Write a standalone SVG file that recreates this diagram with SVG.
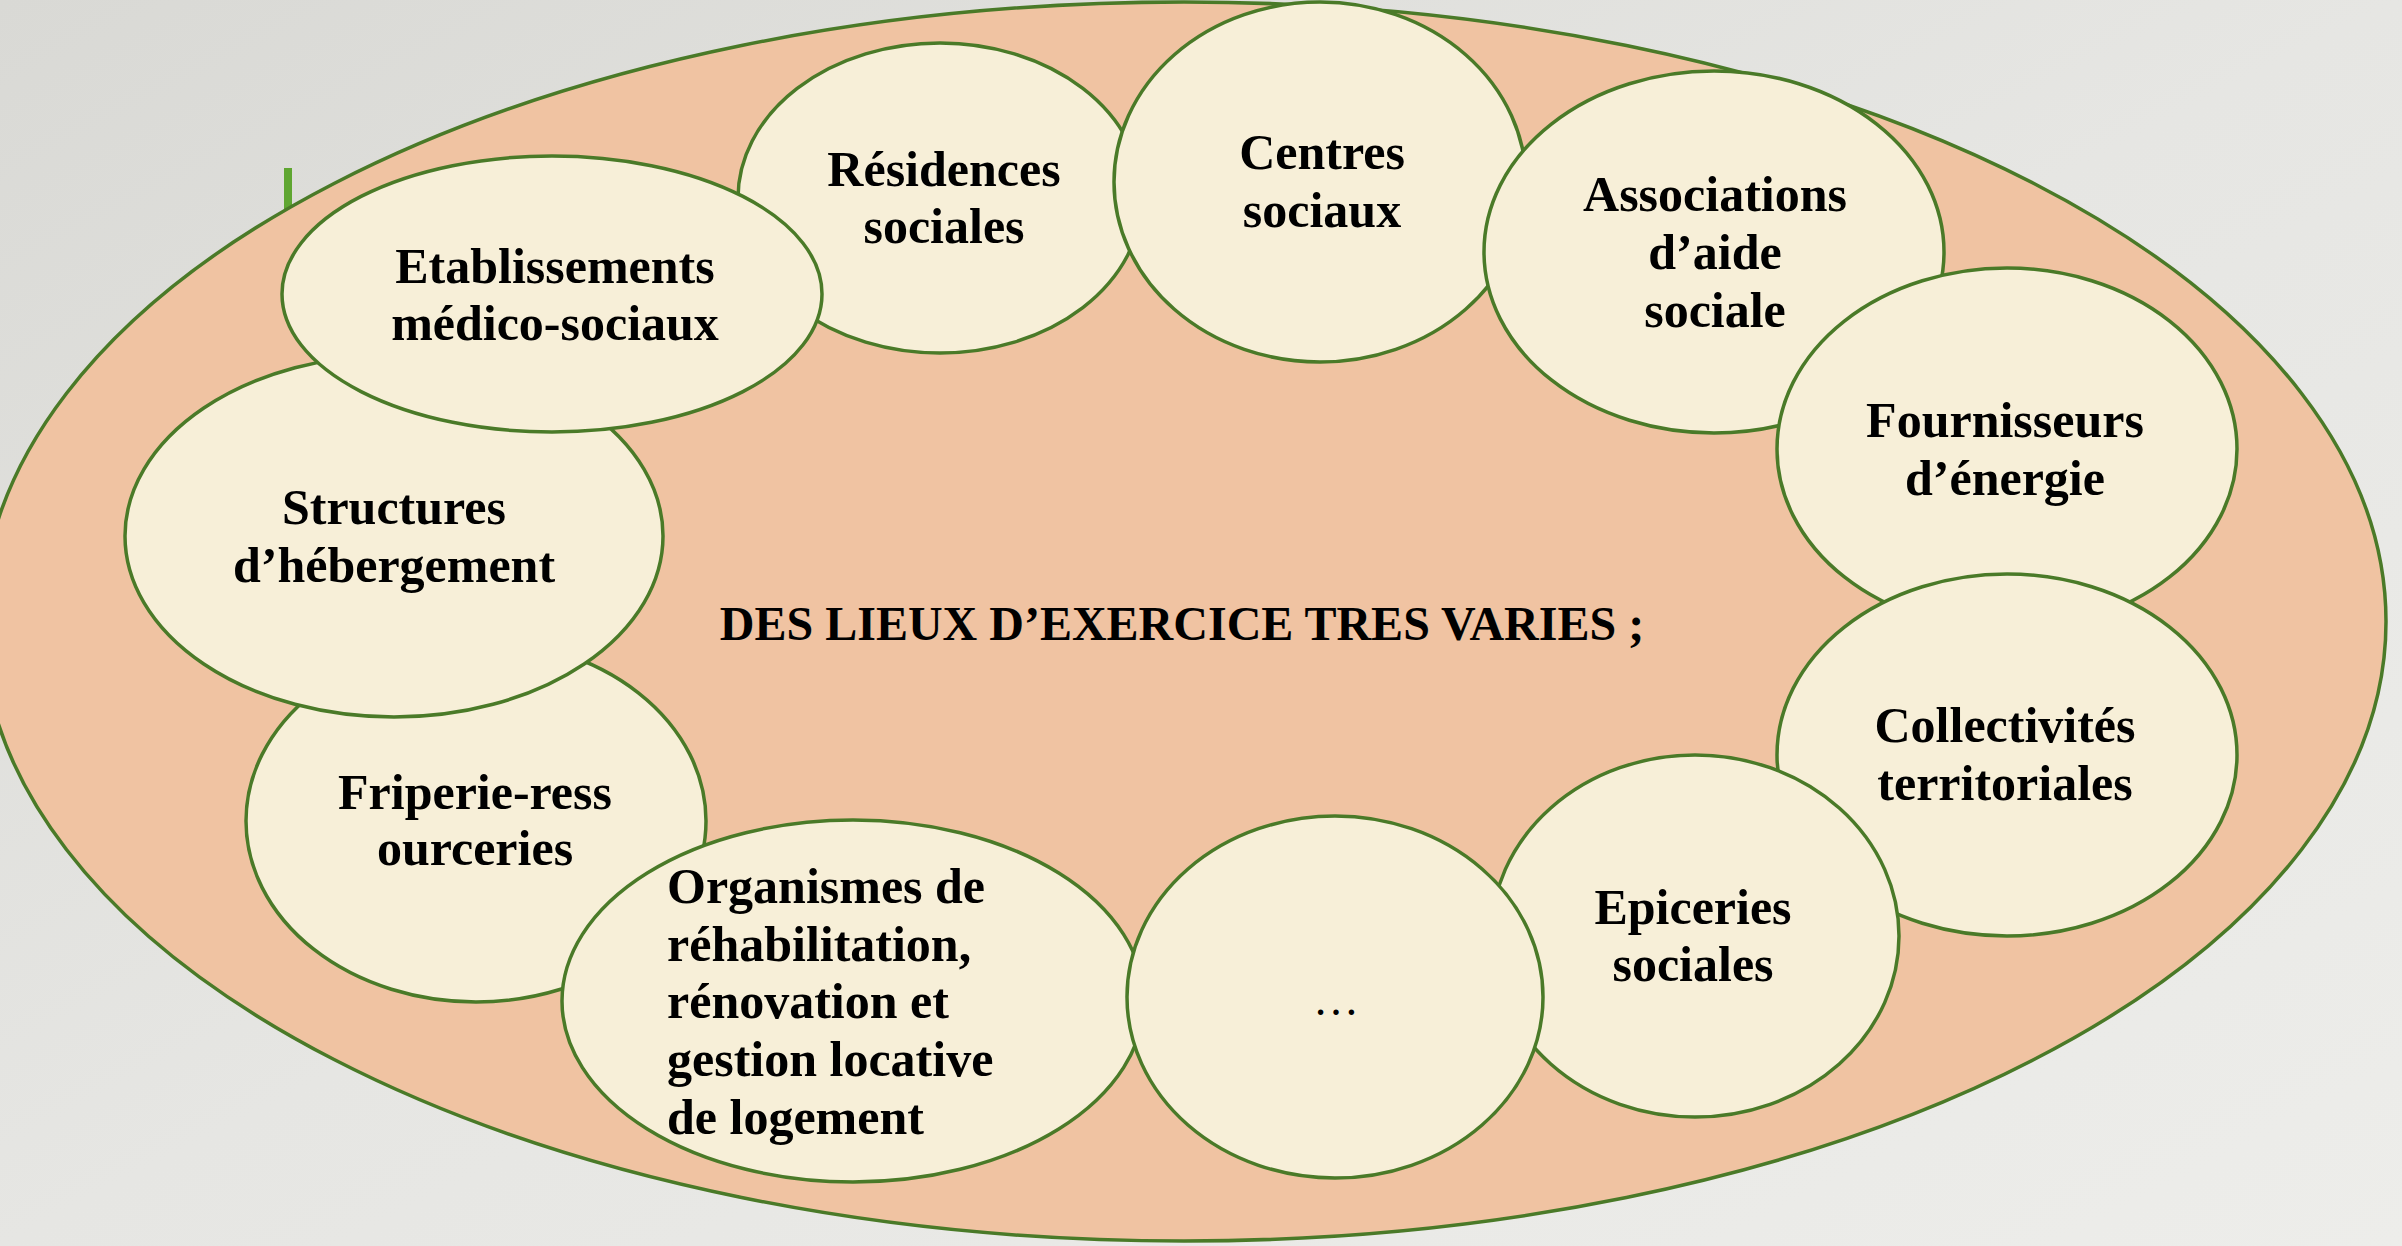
<svg xmlns="http://www.w3.org/2000/svg" width="2402" height="1246" viewBox="0 0 2402 1246">
<defs>
<linearGradient id="bg" x1="0" y1="0" x2="1" y2="1">
<stop offset="0" stop-color="#d9d9d5"/>
<stop offset="0.5" stop-color="#e6e6e3"/>
<stop offset="1" stop-color="#ededea"/>
</linearGradient>
<style>
.node{fill:#f7efd8;stroke:#4a7a28;stroke-width:3.5}
.lbl{font-family:"Liberation Serif","Times New Roman",serif;font-weight:bold;font-size:50px;fill:#000;text-anchor:middle}
.lft{text-anchor:start}
.title{font-size:48px}
.dots{font-weight:normal;font-size:46px}
</style>
</defs>
<rect x="0" y="0" width="2402" height="1246" fill="url(#bg)"/>
<rect x="284" y="168" width="8" height="44" fill="#5fa631"/>
<g id="frame">
<ellipse cx="1184" cy="621.5" rx="1202" ry="619.5" fill="#f0c3a2" stroke="#4a7a28" stroke-width="3.5"/>
<text class="lbl title" x="1182" y="640">DES LIEUX D’EXERCICE TRES VARIES ;</text>
</g>
<g id="connectors"/>
<g id="residences">
<ellipse class="node" cx="940" cy="198" rx="202" ry="155"/>
<text class="lbl" x="944" y="186">Résidences</text>
<text class="lbl" x="944" y="243">sociales</text>
</g>
<g id="centres">
<ellipse class="node" cx="1320" cy="182" rx="206" ry="180"/>
<text class="lbl" x="1322" y="169">Centres</text>
<text class="lbl" x="1322" y="227">sociaux</text>
</g>
<g id="associations">
<ellipse class="node" cx="1714" cy="252" rx="230" ry="181"/>
<text class="lbl" x="1715" y="211">Associations</text>
<text class="lbl" x="1715" y="269">d’aide</text>
<text class="lbl" x="1715" y="327">sociale</text>
</g>
<g id="fournisseurs">
<ellipse class="node" cx="2007" cy="449" rx="230" ry="181"/>
<text class="lbl" x="2005" y="437">Fournisseurs</text>
<text class="lbl" x="2005" y="495">d’énergie</text>
</g>
<g id="collectivites">
<ellipse class="node" cx="2007" cy="755" rx="230" ry="181"/>
<text class="lbl" x="2005" y="742">Collectivités</text>
<text class="lbl" x="2005" y="800">territoriales</text>
</g>
<g id="epiceries">
<ellipse class="node" cx="1695" cy="936" rx="204" ry="181"/>
<text class="lbl" x="1693" y="924">Epiceries</text>
<text class="lbl" x="1693" y="981">sociales</text>
</g>
<g id="friperie">
<ellipse class="node" cx="476" cy="821" rx="230" ry="181"/>
<text class="lbl" x="475" y="809">Friperie-ress</text>
<text class="lbl" x="475" y="865">ourceries</text>
</g>
<g id="organismes">
<ellipse class="node" cx="853" cy="1001" rx="291" ry="181"/>
<text class="lbl lft" x="667" y="903">Organismes de</text>
<text class="lbl lft" x="667" y="961">réhabilitation,</text>
<text class="lbl lft" x="667" y="1018">rénovation et</text>
<text class="lbl lft" x="667" y="1076">gestion locative</text>
<text class="lbl lft" x="667" y="1134">de logement</text>
</g>
<g id="autres">
<ellipse class="node" cx="1335" cy="997" rx="208" ry="181"/>
<text class="lbl dots" x="1336" y="1015">…</text>
</g>
<g id="structures">
<ellipse class="node" cx="394" cy="536" rx="269" ry="181"/>
<text class="lbl" x="394" y="524">Structures</text>
<text class="lbl" x="394" y="582">d’hébergement</text>
</g>
<g id="etablissements">
<ellipse class="node" cx="552" cy="294" rx="270" ry="138"/>
<text class="lbl" x="555" y="283">Etablissements</text>
<text class="lbl" x="555" y="340">médico-sociaux</text>
</g>
</svg>
